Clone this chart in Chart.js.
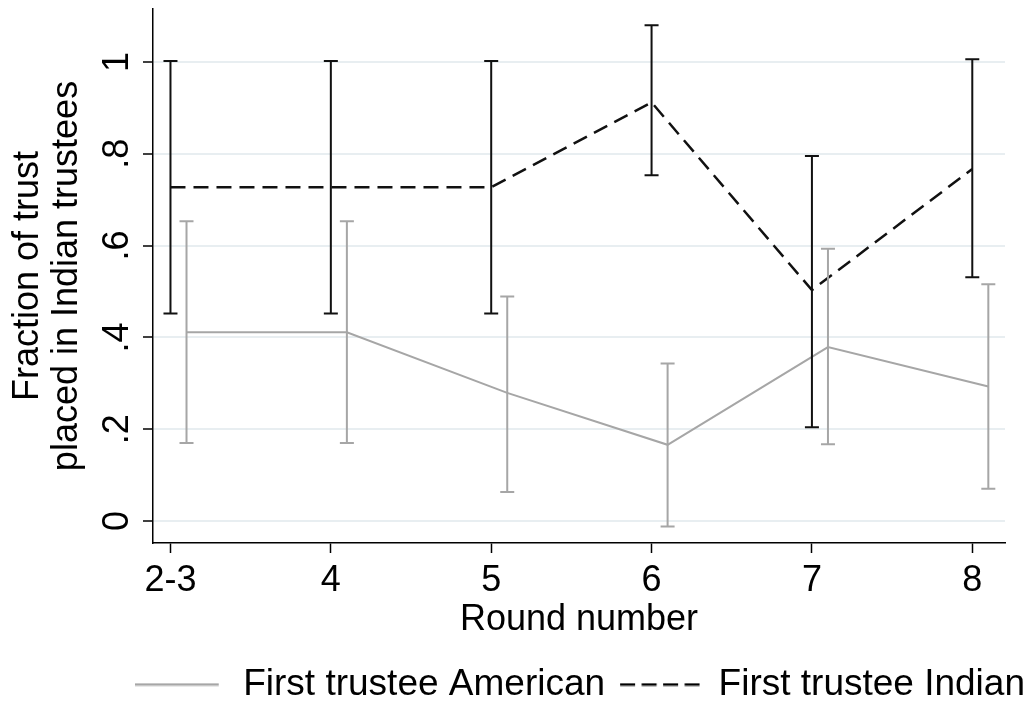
<!DOCTYPE html>
<html>
<head>
<meta charset="utf-8">
<script src="https://cdn.jsdelivr.net/npm/chart.js@4.4.1/dist/chart.umd.min.js"></script>
<style>
  html, body { margin: 0; padding: 0; background: #fff; }
  #wrap { width: 1030px; height: 702px; }
</style>
</head>
<body>
<div id="wrap"><canvas id="grafica" width="1030" height="702"></canvas></div>
<script>
// categorias del eje x
var rondas = ['2-3', '4', '5', '6', '7', '8'];

// primer fideicomisario indio (linea negra discontinua)
var indioMedia = [0.727, 0.727, 0.727, 0.912, 0.503, 0.767];
var indioBajo  = [0.452, 0.452, 0.452, 0.753, 0.204, 0.531];
var indioAlto  = [1.002, 1.002, 1.002, 1.080, 0.795, 1.006];

// primer fideicomisario americano (linea gris)
var americanoMedia = [0.411, 0.411, 0.279, 0.166, 0.379, 0.293];
var americanoBajo  = [0.170, 0.170, 0.063, -0.012, 0.167, 0.070];
var americanoAlto  = [0.653, 0.653, 0.489, 0.343, 0.593, 0.516];

// marcas del eje y
var valoresY = [0, 0.2, 0.4, 0.6, 0.8, 1];
var etiquetasY = ['0', '.2', '.4', '.6', '.8', '1'];

var GRIS = '#a6a6a6';
var NEGRO = '#111111';
var DESPLAZA = 0.1; // la serie gris va un poco a la derecha
var FUENTE = 'Liberation Sans, Arial, sans-serif';
var BAJA_LEYENDA = 11;
var ANCHO_MUESTRA = 90;

function puntos(media, desplaza) {
    return media.map(function (v, i) { return { x: i + 1 + desplaza, y: v }; });
}

// muestra de linea para la leyenda (solida o discontinua)
function muestraLinea(color, dash, desde, hasta) {
    var c = document.createElement('canvas');
    c.width = ANCHO_MUESTRA; c.height = 4;
    var g = c.getContext('2d');
    g.strokeStyle = color;
    g.lineWidth = 2.5;
    g.setLineDash(dash);
    g.beginPath();
    g.moveTo(desde, 2); g.lineTo(hasta, 2);
    g.stroke();
    return c;
}

// dibuja los intervalos de confianza con las escalas del grafico
var barrasError = {
    id: 'barrasError',
    afterDatasetsDraw: function (chart) {
        var ctx = chart.ctx;
        var xs = chart.scales.x, ys = chart.scales.y;
        chart.data.datasets.forEach(function (ds) {
            ctx.save();
            ctx.strokeStyle = ds.borderColor;
            ctx.lineWidth = 2;
            ctx.setLineDash([]);
            for (var i = 0; i < ds.data.length; i++) {
                var px = xs.getPixelForValue(ds.data[i].x);
                var top = ys.getPixelForValue(ds.alto[i]);
                var bot = ys.getPixelForValue(ds.bajo[i]);
                ctx.beginPath();
                ctx.moveTo(px, top); ctx.lineTo(px, bot);
                ctx.moveTo(px - 7, top); ctx.lineTo(px + 7, top);
                ctx.moveTo(px - 7, bot); ctx.lineTo(px + 7, bot);
                ctx.stroke();
            }
            ctx.restore();
        });
    }
};

var chart = new Chart(document.getElementById('grafica').getContext('2d'), {
    type: 'line',
    data: {
        datasets: [{
            label: 'First trustee American',
            data: puntos(americanoMedia, DESPLAZA),
            bajo: americanoBajo,
            alto: americanoAlto,
            muestra: muestraLinea(GRIS, [], 0, 84),
            borderColor: GRIS,
            backgroundColor: GRIS,
            borderWidth: 2,
            pointRadius: 0,
            tension: 0
        }, {
            label: 'First trustee Indian',
            data: puntos(indioMedia, 0),
            bajo: indioBajo,
            alto: indioAlto,
            muestra: muestraLinea('#000', [15, 6.5], 10, 90),
            borderColor: NEGRO,
            backgroundColor: NEGRO,
            borderWidth: 2.5,
            borderDash: [15, 8],
            pointRadius: 0,
            tension: 0
        }]
    },
    options: {
        responsive: false,
        animation: false,
        layout: { padding: { top: 9, left: 0, right: 0, bottom: -BAJA_LEYENDA } },
        plugins: {
            tooltip: { enabled: false },
            legend: {
                position: 'bottom',
                align: 'end',
                labels: {
                    usePointStyle: true,
                    pointStyleWidth: ANCHO_MUESTRA,
                    color: '#000',
                    padding: 5,
                    font: { family: FUENTE, size: 37 },
                    generateLabels: function (chart) {
                        var items = Chart.defaults.plugins.legend.labels.generateLabels(chart);
                        items.forEach(function (it) {
                            it.pointStyle = chart.data.datasets[it.datasetIndex].muestra;
                        });
                        return items;
                    }
                }
            }
        },
        scales: {
            x: {
                type: 'linear',
                min: 0.891,
                max: 6.204,
                afterBuildTicks: function (s) {
                    s.ticks = rondas.map(function (r, i) { return { value: i + 1 }; });
                },
                afterFit: function (s) {
                    var leyenda = s.chart.legend ? s.chart.legend.height : 60;
                    s.height = 702 + BAJA_LEYENDA - 543 - leyenda;
                },
                ticks: {
                    autoSkip: false,
                    maxRotation: 0,
                    color: '#000',
                    padding: 6,
                    font: { family: FUENTE, size: 36 },
                    callback: function (v) { return rondas[Math.round(v) - 1]; }
                },
                grid: { drawOnChartArea: false, tickColor: '#000', tickLength: 10, tickWidth: 1.5 },
                border: { color: '#000', width: 1.5 },
                title: {
                    display: true,
                    text: 'Round number',
                    color: '#000',
                    padding: { top: 0, bottom: 19 },
                    font: { family: FUENTE, size: 36 }
                }
            },
            y: {
                min: -0.048,
                max: 1.1155,
                afterBuildTicks: function (s) {
                    s.ticks = valoresY.map(function (v) { return { value: v }; });
                },
                afterFit: function (s) {
                    s.width = 153;
                    s.paddingTop = 0;
                    s.paddingBottom = 0;
                },
                ticks: {
                    minRotation: 90,
                    maxRotation: 90,
                    crossAlign: 'center',
                    color: '#000',
                    padding: 10,
                    font: { family: FUENTE, size: 36 },
                    callback: function (v) { return etiquetasY[valoresY.indexOf(v)]; }
                },
                grid: { color: '#e8eef1', lineWidth: 2, tickColor: '#000', tickLength: 10, tickWidth: 1.5 },
                border: { color: '#000', width: 1.5 },
                title: {
                    display: true,
                    text: ['Fraction of trust', 'placed in Indian trustees'],
                    color: '#000',
                    padding: { top: 8, bottom: 0 },
                    font: { family: FUENTE, size: 36, lineHeight: 1.1 }
                }
            },
            derecha: {
                position: 'right',
                display: true,
                afterFit: function (s) { s.width = 25; s.paddingTop = 0; s.paddingBottom = 0; },
                ticks: { display: false },
                grid: { display: false },
                border: { display: false }
            }
        }
    },
    plugins: [barrasError]
});
</script>
</body>
</html>
